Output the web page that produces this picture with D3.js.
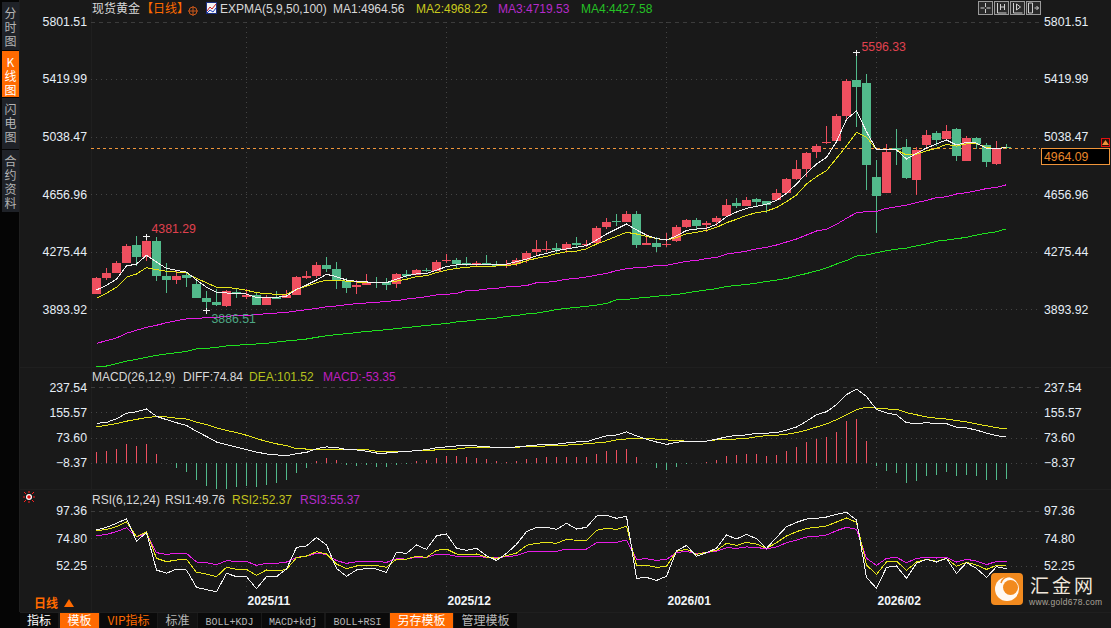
<!DOCTYPE html>
<html>
<head>
<meta charset="utf-8">
<script src="https://cdn.jsdelivr.net/npm/d3@7/dist/d3.min.js"></script>
<style>
  html, body { margin: 0; padding: 0; background: #191919; overflow: hidden; }
  svg { display: block; }
  text { font-family: "Liberation Sans", Arial, sans-serif; }
  .cjk { font-family: "Noto Sans CJK SC", sans-serif; }
  .mono { font-family: "Liberation Mono", monospace; }
  .crisp { shape-rendering: crispEdges; }
  .tab { writing-mode: vertical-lr; text-orientation: upright; letter-spacing: 2px; }
</style>
</head>
<body>
<svg id="chart" width="1111" height="628"></svg>
<script>
/***************************************************************
 * DATA, one entry per trading day
 ***************************************************************/
const opens = [3995,4099,4135,4199,4320,4241,4347,4115,4088,4121,4062,3969,3942,3916,4008,3975,3989,3922,3975,3969,3989,4101,4115,4188,4161,4081,4042,4055,4075,4075,4062,
  4128,4121,4154,4148,4214,4221,4201,4188,4201,4194,4188,4194,4221,4274,4287,4300,4294,4333,4320,4333,4439,4479,4473,4526,4320,4333,4320,4347,4439,4486,4453,4473,
  4512,4599,4579,4625,4612,4618,4665,4758,4824,4937,4996,5009,5175,5414,5394,4771,4665,4963,4970,4751,4983,5062,5023,5089,4877,5029,4983,4857,4970];
const highs = [4110,4165,4214,4327,4380,4381.29,4373,4199,4148,4141,4095,4015,4028,4022,4035,4028,4002,3989,4015,4022,4115,4148,4207,4241,4207,4101,4088,4128,4108,4101,4135,
  4154,4161,4168,4221,4260,4234,4241,4214,4254,4214,4221,4234,4280,4353,4347,4333,4340,4373,4353,4446,4499,4526,4545,4545,4393,4373,4400,4453,4492,4499,4479,4512,
  4625,4632,4638,4632,4612,4691,4764,4884,4937,4990,5109,5188,5420,5596.33,5454,4884,4990,5089,5023,4970,5082,5076,5115,5096,5043,5036,4996,5009,4990];
const lows = [3995,4088,4135,4199,4183,4214,4081,4002,4062,4042,3969,3886.51,3916,3909,3969,3962,3922,3922,3962,3969,3989,4095,4101,4141,4028,4002,3995,4055,4035,4022,4035,
  4101,4121,4141,4148,4201,4161,4181,4174,4188,4181,4168,4181,4201,4254,4274,4267,4267,4300,4307,4333,4426,4446,4473,4300,4320,4274,4307,4340,4433,4420,4406,4446,
  4512,4565,4579,4579,4532,4618,4665,4751,4771,4897,4990,5009,5155,5102,4685,4400,4665,4850,4758,4652,4956,4976,5023,4877,4877,4956,4837,4850,4956];
const closes = [4101,4135,4199,4313,4241,4347,4115,4088,4115,4101,3969,3942,3922,4015,4002,3989,3922,3975,3962,3989,4108,4115,4188,4161,4081,4035,4055,4075,4068,4055,4128,
  4115,4154,4148,4207,4221,4194,4194,4201,4194,4181,4194,4221,4267,4294,4294,4287,4327,4320,4327,4433,4473,4473,4526,4320,4333,4307,4327,4439,4486,4446,4466,4499,
  4585,4579,4618,4605,4585,4665,4758,4824,4930,4976,5003,5175,5407,5367,4850,4645,4937,4950,4764,4950,5049,5016,5076,4910,5029,4990,4870,4963,4964.09];

const ma1 = [4022,4053,4093,4181,4194,4252,4207,4165,4152,4141,4088,4040,4006,4002,4000,3995,3973,3973,3973,3982,4026,4055,4088,4126,4110,4088,4079,4075,4073,4070,4093,
  4115,4128,4132,4154,4177,4188,4194,4194,4194,4190,4194,4210,4227,4249,4265,4283,4294,4305,4316,4353,4393,4426,4459,4420,4386,4364,4353,4380,4417,4426,4431,4457,
  4508,4539,4563,4576,4590,4616,4663,4724,4795,4857,4901,5005,5153,5210,5071,4954,4950,4950,4890,4928,4963,4990,5016,4983,5001,4996,4961,4961,4964.56];
const ma2 = [3967,4000,4040,4106,4128,4170,4157,4146,4141,4135,4099,4070,4040,4040,4031,4020,4004,3998,3993,3993,4026,4048,4070,4088,4084,4081,4075,4073,4073,4073,4081,
  4093,4110,4117,4137,4154,4165,4172,4179,4179,4181,4183,4194,4216,4232,4245,4263,4276,4280,4294,4327,4351,4378,4404,4393,4378,4362,4353,4369,4395,4404,4417,4437,
  4468,4490,4517,4534,4545,4568,4607,4652,4724,4773,4813,4895,4976,5067,5034,4954,4950,4950,4917,4921,4945,4961,4987,4976,4990,4990,4967,4959,4968.22];
const ma3 = [3668,3686,3704,3735,3755,3774,3788,3805,3819,3830,3834,3838,3841,3847,3852,3854,3858,3865,3869,3874,3883,3891,3900,3911,3916,3925,3931,3936,3940,3947,3951,
  3962,3969,3978,3989,3993,4000,4017,4020,4028,4033,4042,4046,4051,4070,4073,4081,4093,4099,4108,4121,4132,4150,4163,4170,4174,4185,4185,4199,4212,4218,4230,4238,
  4260,4269,4280,4294,4305,4320,4340,4360,4386,4413,4424,4457,4497,4534,4541,4543,4563,4574,4585,4601,4616,4634,4640,4658,4667,4680,4694,4702,4719.53];
const ma4 = [3516,3518,3534,3551,3562,3576,3589,3598,3606,3615,3631,3635,3642,3651,3655,3662,3664,3668,3677,3684,3690,3697,3708,3719,3726,3732,3739,3748,3752,3759,3766,
  3773,3780,3787,3793,3800,3810,3816,3823,3830,3836,3846,3853,3863,3869,3879,3892,3900,3907,3914,3922,3933,3956,3960,3967,3973,3980,3987,3991,4002,4013,4022,4031,
  4045,4052,4058,4068,4078,4088,4098,4115,4131,4148,4168,4194,4217,4247,4254,4269,4282,4292,4300,4314,4327,4345,4353,4362,4371,4386,4398,4408,4427.58];

const diff = [120,123,135,153,158,167,143,132,122,113,94,77,59,50,42,34,26,20,17,14,21,25,37,43,41,34,33,29,
  23,23,26,28,31,34,40,43,46,46,46,43,42,40,43,46,49,51,52,56,59,59,70,79,82,92,79,68,59,51,58,62,62,62,68,76,81,
  82,88,88,90,98,108,127,148,158,181,214,232,208,165,154,148,122,119,122,119,119,107,105,98,88,80,74.84];
const dea = [108,114,119,127,133,139,142,141,137,134,124,116,105,97,90,81,70,61,53,47,37,36,36,36,36,36,36,34,
  29,29,29,29,30,32,33,35,36,40,40,40,40,40,42,44,45,46,48,49,50,54,56,59,66,69,72,72,68,66,63,62,62,62,66,66,69,
  71,76,80,81,84,90,98,108,118,132,148,165,173,170,167,166,155,148,141,137,134,129,125,118,112,106,101.52];
const macdBars = [34,38,45,61,54,61,28,-2,-17,-30,-57,-76,-86,-86,-79,-76,-79,-74,-66,-57,-34,-17,5,16,9,-9,-12,-9,
  -13,-13,-8,-4,5,9,15,22,22,18,15,12,5,2,5,12,15,18,18,18,18,18,28,38,41,45,18,-2,-17,-24,-14,-4,-2,2,9,22,25,
  28,28,22,25,38,51,67,77,84,100,136,143,71,-11,-28,-35,-67,-61,-45,-41,-32,-45,-41,-45,-58,-58,-53.35];

const rsi1 = [81.7,83.9,87.2,91,72.6,79.5,48.7,46,49.5,48.7,34.4,32.5,30.8,46,43.2,43.2,33.3,43.2,43.2,49.5,67.4,68.5,75.6,69.3,50,43.5,48.7,50,
  49.5,46.7,63.3,62.4,69.3,65.7,77,78.4,66.6,64.9,66.6,60.5,56.6,62.4,69.9,80.3,83.9,83.9,82.2,87.2,82.5,83.9,93.2,94,91.3,93,41.8,42.6,40.1,43.5,64.4,69,60,63,66.6,77.6,74.3,
  78.1,74.5,66.6,75.6,84.4,88,90.75,91.3,92.4,94.6,96.3,89.9,42.6,33.5,50.9,52,41.8,54.2,57.5,55.3,58.3,45.9,54.7,50,42.6,51.4,49.76];
const rsi2 = [81.1,82.2,84.4,88.3,76.2,80,58.3,55.6,56.9,57.5,46.8,45.4,43.2,50.9,49.2,49.2,44.3,48.7,47.9,49.2,58.9,60.2,63.8,61.9,53.6,49.8,52,52.5,
  52.3,50.9,57.7,57.7,60,59.1,64.9,66,61.9,61.6,61.9,59.4,58.3,60.5,62.7,69,70.7,71.5,70.7,74,73.2,73.2,81.4,83,82.2,84.7,52.5,52.5,50.9,51.7,64.1,65.7,61.6,63.3,64.9,70.7,69,
  71.5,70.1,66.6,71.2,76.7,80.3,83,83.9,85,88.3,91.6,88,52.8,45.1,55.3,56.1,48.4,55.3,57.5,55.8,58.3,51.7,55,52.8,49.2,52.5,52.37];
const rsi3 = [77,78.1,80.3,83.6,76.2,78.9,63,61.6,62.4,62.4,55.3,54.7,53.1,56.4,55.8,55.8,52.5,54.2,54.2,55.3,59.1,60.2,62.4,61.6,56.4,54.2,55.5,55.8,
  55.8,55,58,57.7,59.4,59.1,61.6,61.6,60,60,60,59.1,58.8,59.7,60.5,63.5,64.1,64.1,64.1,66,66,66,71.2,71.5,71.5,73.4,57.5,58,56.6,57.5,63,64.1,61.9,63.3,64.1,67.1,66.6,
  67.7,67.4,66,67.7,71.2,73.4,75.9,76.4,77.6,81.1,83.9,82.2,58.3,52.5,58.3,59.1,54.7,58.3,59.1,58.6,59.1,55.3,57.5,56.1,53.1,55.8,55.37];

const priceTicks = [5801.51, 5419.99, 5038.47, 4656.96, 4275.44, 3893.92];
const macdTicks = [237.54, 155.57, 73.60, -8.37];
const rsiTicks = [97.36, 74.80, 52.25];
const monthLabels = ["2025/11", "2025/12", "2026/01", "2026/02"];
const monthStarts = [15, 35, 57, 78];
const lastPrice = 4964.09;

const sideTabs = ["分时图", "K线图", "闪电图", "合约资料"];
const toolButtons = ["指标", "模板", "VIP指标", "标准", "BOLL+KDJ", "MACD+kdj", "BOLL+RSI", "另存模板", "管理模板"];

/***************************************************************
 * SCALES
 ***************************************************************/
const RED = "#ee4f5f", GREEN = "#52ba8b", ORANGE = "#ff6a00";
const LEFT = 91, RIGHT = 1040;

const svg = d3.select("#chart");
const x = d3.scaleLinear().domain([0, 91]).range([96.5, 1006.5]);
const yPrice = d3.scaleLinear().domain([3893.92, 5801.51]).range([309.3, 21.5]);
const yMacd = d3.scaleLinear().domain([-8.37, 237.54]).range([462.6, 387.4]);
const yRsi = d3.scaleLinear().domain([52.25, 97.36]).range([565.7, 511]);

// chrome behind the plots
svg.append("rect").attr("width", 1111).attr("height", 628).attr("fill", "#191919");
svg.append("rect").attr("width", 20).attr("height", 628).attr("fill", "#050505");
svg.append("g").attr("class", "crisp").selectAll("line")
  .data([[LEFT, 0, LEFT, 612], [19.5, 0, 19.5, 612], [20, 367, 1111, 367], [20, 489, 1111, 489], [20, 612, 1111, 612]])
  .enter().append("line")
  .attr("x1", d => d[0]).attr("y1", d => d[1]).attr("x2", d => d[2]).attr("y2", d => d[3])
  .attr("stroke", "#1f1f1f");

/***************************************************************
 * PANELS: grid and value axes
 ***************************************************************/
function drawPanel(scale, ticks, bottom) {
  const g = svg.append("g").attr("class", "crisp");
  // first tick is the panel top, drawn dashed
  g.selectAll(".h").data(ticks).enter().append("line")
    .attr("x1", LEFT).attr("x2", RIGHT)
    .attr("y1", d => Math.round(scale(d)) + 0.5).attr("y2", d => Math.round(scale(d)) + 0.5)
    .attr("stroke", (d, i) => i === 0 ? "#3c3c3c" : "#444")
    .attr("stroke-dasharray", (d, i) => i === 0 ? "4 4" : "1 4");
  g.selectAll(".v").data(monthStarts).enter().append("line")
    .attr("x1", d => x(d)).attr("x2", d => x(d))
    .attr("y1", scale(ticks[0])).attr("y2", bottom)
    .attr("stroke", "#444").attr("stroke-dasharray", "1 4");

  const left = d3.axisLeft(scale).tickValues(ticks).tickSize(0).tickPadding(4).tickFormat(d3.format(".2f"));
  const right = d3.axisRight(scale).tickValues(ticks).tickSize(0).tickPadding(4).tickFormat(d3.format(".2f"));
  [svg.append("g").attr("transform", "translate(91,0)").call(left),
   svg.append("g").attr("transform", "translate(1040,0)").call(right)].forEach(ax => {
    ax.select(".domain").remove();
    ax.selectAll("text").attr("fill", "#e6eef6").attr("font-size", 12.3);
  });
}
drawPanel(yPrice, priceTicks, 366);
drawPanel(yMacd, macdTicks, 488);
drawPanel(yRsi, rsiTicks, 594);

// last price line
svg.append("line").attr("class", "crisp")
  .attr("x1", LEFT).attr("x2", RIGHT)
  .attr("y1", Math.round(yPrice(lastPrice)) + 0.5).attr("y2", Math.round(yPrice(lastPrice)) + 0.5)
  .attr("stroke", "#f0953a").attr("stroke-dasharray", "3 3");

/***************************************************************
 * CANDLES
 ***************************************************************/
const candleData = d3.range(opens.length);
const candles = svg.append("g").attr("class", "crisp");
const candleColor = i => closes[i] >= opens[i] ? RED : GREEN;

candles.selectAll(".wick").data(candleData).enter().append("rect")
  .attr("x", i => x(i) - 0.5).attr("width", 1)
  .attr("y", i => yPrice(highs[i]))
  .attr("height", i => yPrice(lows[i]) - yPrice(highs[i]))
  .attr("fill", candleColor);

candles.selectAll(".body").data(candleData).enter().append("rect")
  .attr("x", i => x(i) - 4.5).attr("width", 9)
  .attr("y", i => yPrice(Math.max(opens[i], closes[i])))
  .attr("height", i => Math.max(1, Math.abs(yPrice(opens[i]) - yPrice(closes[i]))))
  .attr("fill", candleColor);

/***************************************************************
 * INDICATOR LINES
 ***************************************************************/
function drawLine(values, scale, color) {
  const line = d3.line().x((d, i) => x(i)).y(d => scale(d));
  svg.append("path").attr("class", "crisp")
    .attr("d", line(values))
    .attr("fill", "none").attr("stroke", color).attr("stroke-width", 1);
}
drawLine(ma3, yPrice, "#e61ce6");
drawLine(ma4, yPrice, "#1fe01f");
drawLine(ma2, yPrice, "#e6e61a");
drawLine(ma1, yPrice, "#f2f2f2");

// macd sticks grow out of the bottom grid line, not out of the zero level
const macdBase = yMacd(-8.37);
const macdPerUnit = yMacd(0) - yMacd(1);
svg.append("g").attr("class", "crisp").selectAll("rect").data(macdBars).enter().append("rect")
  .attr("x", (d, i) => x(i) - 0.5).attr("width", 1)
  .attr("y", d => d > 0 ? macdBase - d * macdPerUnit : macdBase)
  .attr("height", d => Math.abs(d) * macdPerUnit)
  .attr("fill", d => d > 0 ? RED : GREEN);
drawLine(dea, yMacd, "#e6e61a");
drawLine(diff, yMacd, "#f2f2f2");

drawLine(rsi3, yRsi, "#e61ce6");
drawLine(rsi2, yRsi, "#e6e61a");
drawLine(rsi1, yRsi, "#f2f2f2");

/***************************************************************
 * HIGH / LOW MARKERS
 ***************************************************************/
function marker(i, value, color, dx, dy) {
  const cx = x(i), cy = Math.round(yPrice(value)) + 0.5;
  svg.append("path").attr("class", "crisp")
    .attr("d", `M${cx - 3.5},${cy}H${cx + 3.5}M${cx},${cy - 3}V${cy + 3}`)
    .attr("stroke", "#f2f2f2").attr("fill", "none");
  svg.append("text").attr("x", cx + dx).attr("y", cy + dy)
    .attr("fill", color).attr("font-size", 12.3).text(value.toFixed(2));
}
marker(5, 4381.29, "#e0414f", 5, -4);
marker(11, 3886.51, "#4ea884", 5, 12);
marker(76, 5596.33, "#e0414f", 5, -2);

/***************************************************************
 * TITLES AND LEGENDS
 ***************************************************************/
function label(text, px, py, color, cls, size, weight) {
  return svg.append("text").attr("x", px).attr("y", py).attr("fill", color)
    .attr("class", cls || null).attr("font-size", size || 12)
    .attr("font-weight", weight || null).text(text);
}
label("现货黄金", 92, 13, "#d8d8d8", "cjk", 12);
label("【日线】", 141, 13, "#ff6a00", "cjk", 12);
label("EXPMA(5,9,50,100)", 220, 13, "#d8d8d8");
label("MA1:" + ma1[91].toFixed(2), 333, 13, "#d8d8d8");
label("MA2:" + ma2[91].toFixed(2), 416, 13, "#c9c91e");
label("MA3:" + ma3[91].toFixed(2), 498, 13, "#b52bc9");
label("MA4:" + ma4[91].toFixed(2), 581, 13, "#25c025");

label("MACD(26,12,9)", 92, 381, "#d8d8d8");
label("DIFF:" + diff[91].toFixed(2), 183, 381, "#d8d8d8");
label("DEA:" + dea[91].toFixed(2), 249, 381, "#b5c21e");
label("MACD:" + macdBars[91].toFixed(2), 323, 381, "#c01fc0");

label("RSI(6,12,24)", 92, 504, "#d8d8d8");
label("RSI1:" + rsi1[91].toFixed(2), 165, 504, "#d8d8d8");
label("RSI2:" + rsi2[91].toFixed(2), 232, 504, "#c2c21e");
label("RSI3:" + rsi3[91].toFixed(2), 300, 504, "#b52bc9");

// month labels sit just right of their grid line
svg.append("g").selectAll("text").data(monthLabels).enter().append("text")
  .attr("x", (d, i) => x(monthStarts[i]) + 1).attr("y", 605)
  .attr("fill", "#f2f6fa").attr("font-size", 12).attr("font-weight", "bold")
  .text(d => d);

label("日线", 34, 608, ORANGE, "cjk", 12, "bold");
svg.append("path").attr("d", "M64,607L69,599L74,607Z").attr("fill", ORANGE);

// price box
svg.append("rect").attr("class", "crisp").attr("x", 1041.5).attr("y", 148.5).attr("width", 68).attr("height", 16)
  .attr("fill", "#000").attr("stroke", "#f0953a");
label(lastPrice.toFixed(2), 1044, 161, "#e8862a", null, 12.3);
svg.append("rect").attr("class", "crisp").attr("x", 1101.5).attr("y", 138.5).attr("width", 8).attr("height", 8)
  .attr("fill", "#2a1208").attr("stroke", "#e01010");
svg.append("path").attr("d", "M1102,145L1105.5,140L1109,145Z").attr("fill", "#f0953a");

/***************************************************************
 * LEFT TABS AND BOTTOM TOOLBAR
 ***************************************************************/
const tabTops = [2, 51, 98, 150], tabHeights = [48, 46, 51, 62];
sideTabs.forEach((tab, t) => {
  const active = tab === "K线图";
  svg.append("rect").attr("class", "crisp").attr("x", 2).attr("width", 17)
    .attr("y", tabTops[t]).attr("height", tabHeights[t])
    .attr("fill", active ? ORANGE : "#1f2228");
  // one vertical text per tab, characters stacked upright
  label(tab, 10.5, tabTops[t] + 5, active ? "#fff" : "#b4b4b4", "cjk tab", 12);
});

const btnLefts = [20, 60, 100, 158, 198, 262, 326, 390, 454];
const btnRights = [58, 99, 157, 197, 261, 324, 389, 453, 517];
toolButtons.forEach((name, b) => {
  const hot = b === 1 || b === 7;
  svg.append("rect").attr("class", "crisp").attr("x", btnLefts[b]).attr("y", 613)
    .attr("width", btnRights[b] - btnLefts[b]).attr("height", 15)
    .attr("fill", hot ? ORANGE : (b === 3 ? "#121212" : "#0a0a0a"));
  const mono = name.indexOf("+") > 0;
  const color = hot || b === 0 ? "#fff" : (name === "VIP指标" ? ORANGE : "#b8b8b8");
  label(name, (btnLefts[b] + btnRights[b]) / 2, 624.5, color, mono ? "mono" : "cjk", mono ? 10 : 12)
    .attr("text-anchor", "middle");
});

/***************************************************************
 * SMALL ICONS AND WATERMARK
 ***************************************************************/
// zoom icon after the title
svg.append("circle").attr("cx", 193).attr("cy", 11).attr("r", 4).attr("fill", "none").attr("stroke", "#c8571a");
svg.append("path").attr("d", "M188,11H198M193,6V16").attr("stroke", "#c8571a");

// expma icon
svg.append("rect").attr("x", 206.5).attr("y", 2.5).attr("width", 10).attr("height", 11).attr("fill", "#f4f4f4").attr("stroke", "#1c2f80");
svg.append("path").attr("d", "M207,11L210,7L212,9L216,4").attr("stroke", "#d02020").attr("fill", "none");
svg.append("path").attr("d", "M207,13L210,10L213,12L216,8").attr("stroke", "#2040c0").attr("fill", "none");

// four toolbar icons top right
const iconLefts = [978, 994, 1010, 1026];
const iconGlyphs = [
  "M-5,0H-1M1,0H5M0,-5V-1M0,1V5",
  "M-4,-5V5H5M-1,-4V2M3,-4V2M-1,-1H3",
  "M-4,-5V5H5M-1,-4L3,-1L-1,2Z",
  "M-5,-5V5H-1V-5ZM1,0H5M3,-2L5,0L3,2"];
iconLefts.forEach((l, k) => {
  svg.append("rect").attr("class", "crisp").attr("x", l + 0.5).attr("y", 1.5).attr("width", 14).attr("height", 13)
    .attr("fill", "#2a2a2a").attr("stroke", "#9a9a9a");
  svg.append("path").attr("transform", `translate(${l + 7.5},8)`).attr("d", iconGlyphs[k])
    .attr("stroke", "#d0d0d0").attr("fill", "none");
});

// red alarm dot left of the rsi panel
svg.append("circle").attr("cx", 29).attr("cy", 497).attr("r", 3).attr("fill", "#fff");
svg.append("circle").attr("cx", 29).attr("cy", 497).attr("r", 1.8).attr("fill", "#e01010");
svg.append("path").attr("d", "M24,492l2,2M34,492l-2,2M24,502l2,-2M34,502l-2,-2M23,497h2M33,497h2M29,491v2M29,501v2")
  .attr("stroke", "#ff2020").attr("fill", "none");

// gold678 watermark
svg.append("rect").attr("x", 991).attr("y", 573).attr("width", 32).attr("height", 32).attr("rx", 4).attr("fill", "#f28a1e");
svg.append("circle").attr("cx", 1007).attr("cy", 589).attr("r", 12).attr("fill", "#fff").attr("opacity", 0.95);
svg.append("circle").attr("cx", 1010.5).attr("cy", 587.5).attr("r", 7.5).attr("fill", "#f28a1e");
svg.append("path").attr("d", "M1001,583A9,9 0 0 1 1016,579").attr("stroke", "#f28a1e").attr("stroke-width", 1.5).attr("fill", "none");
label("汇金网", 1030, 593, "#efe6da", "cjk", 19).attr("letter-spacing", 3);
label("www.gold678.com", 1029, 605, "#a9a39a", null, 8.5).attr("letter-spacing", 0.3);
</script>
</body>
</html>
